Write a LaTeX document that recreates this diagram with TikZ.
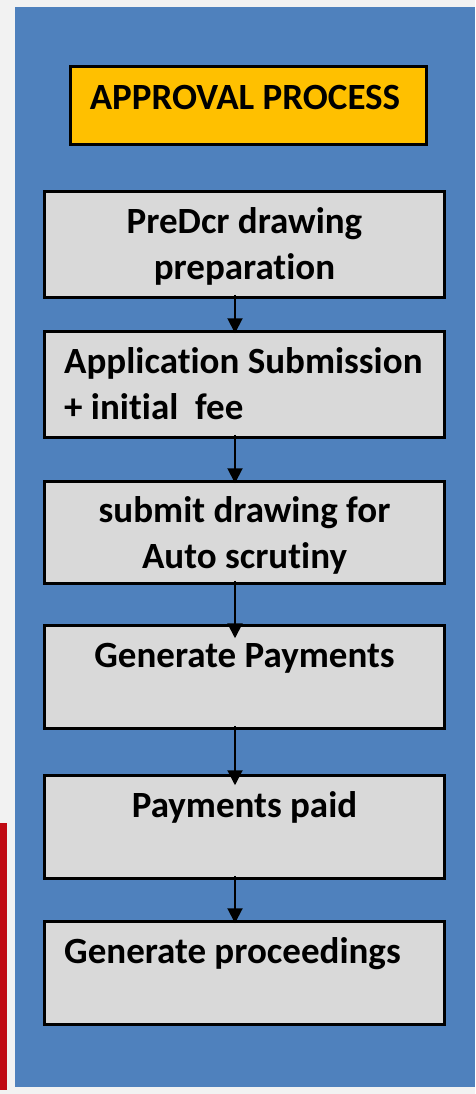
\documentclass[tikz,border=0pt]{standalone}
\usepackage{fontspec}
\setmainfont{Carlito}[RawFeature={-liga}]
\usetikzlibrary{arrows.meta,positioning}

\definecolor{slideblue}{HTML}{4F81BD}
\definecolor{slidegray}{HTML}{F2F2F2}
\definecolor{boxgray}{HTML}{D9D9D9}
\definecolor{titleyellow}{HTML}{FFC000}
\definecolor{sidered}{HTML}{C00A14}

\begin{document}
\begin{tikzpicture}[x=1pt,y=-1pt]
	\tikzstyle{stepbox}=[draw=black,line width=2.5pt,fill=boxgray,minimum width=400pt,inner sep=0pt]
	\tikzstyle{steptext}=[font=\fontsize{37}{46}\selectfont\bfseries,inner sep=0pt]
	\tikzstyle{titlebox}=[draw=black,line width=3pt,fill=titleyellow,minimum width=356pt,minimum height=78pt]
	\tikzstyle{flow}=[line width=2pt,-{Triangle[width=15pt,length=15pt]},shorten <=-4pt]

	% slide background
	\useasboundingbox (0,0) rectangle (475,1094);
	\fill[slidegray] (0,0) rectangle (475,1094);
	\fill[sidered] (0,823) rectangle (7,1090);
	\fill[slideblue] (15,7) rectangle (475,1087);

	% title
	\node[titlebox] (title) at (248.5,105.5) {};
	\node[steptext,anchor=base] (titletext) at (245,110) {APPROVAL PROCESS};

	% steps
	\node[stepbox,minimum height=106pt] (b1) at (244.5,244.5) {};
	\node[stepbox,minimum height=106pt] (b2) at (244.5,384.5) {};
	\node[stepbox,minimum height=102pt] (b3) at (244.5,532.5) {};
	\node[stepbox,minimum height=103pt] (b4) at (244.5,677) {};
	\node[stepbox,minimum height=103pt] (b5) at (244.5,827) {};
	\node[stepbox,minimum height=103pt] (b6) at (244.5,973) {};

	% multi-line texts sit on their last baseline
	\node[steptext,anchor=base,align=center] (t1) at (244.5,279) {PreDcr drawing\\preparation};
	\node[steptext,anchor=base west,align=left] (t2) at (64,419) {Application Submission\\+ initial\ \ fee};
	\node[steptext,anchor=base,align=center] (t3) at (244.5,568) {submit drawing for\\Auto scrutiny};
	\node[steptext,anchor=base] (t4) at (244.5,667) {Generate Payments};
	\node[steptext,anchor=base] (t5) at (244.5,817) {Payments paid};
	\node[steptext,anchor=base west] (t6) at (64,963) {Generate proceedings};

	% arrows
	\draw[flow,shorten >=-3pt] ([xshift=-9.5pt]b1.south) -- ([xshift=-9.5pt]b2.north);
	\draw[flow,shorten >=-3pt] ([xshift=-9.5pt]b2.south) -- ([xshift=-9.5pt]b3.north);
	\draw[flow,shorten >=-14pt] ([xshift=-9.5pt]b3.south) -- ([xshift=-9.5pt]b4.north);
	\draw[flow,shorten >=-11pt] ([xshift=-9.5pt]b4.south) -- ([xshift=-9.5pt]b5.north);
	\draw[flow,shorten >=-3pt] ([xshift=-9.5pt]b5.south) -- ([xshift=-9.5pt]b6.north);
\end{tikzpicture}
\end{document}
